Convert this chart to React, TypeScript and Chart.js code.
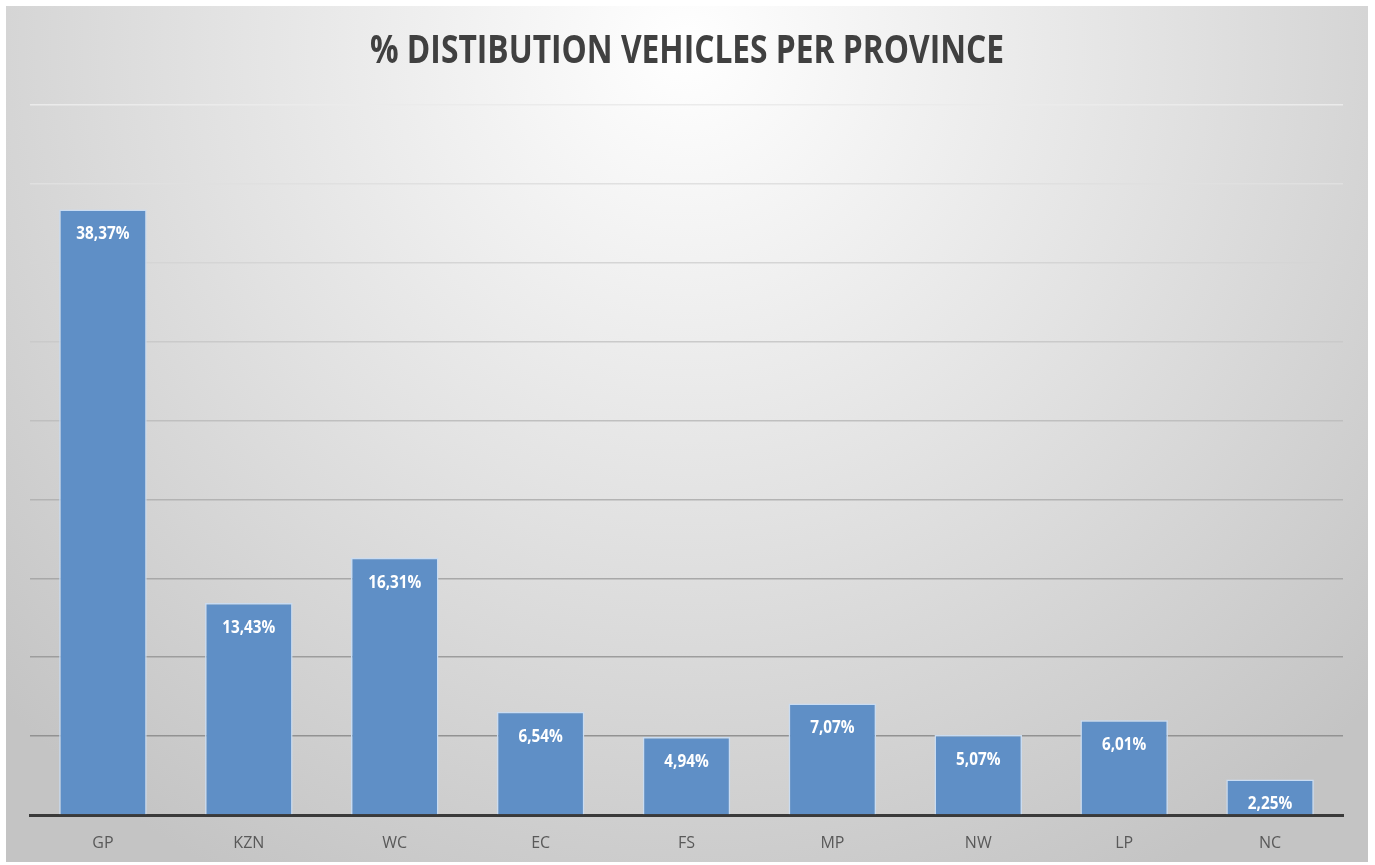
import React, { useEffect, useRef } from "react";
import { Chart, registerables } from "chart.js";

Chart.register(...registerables);

const titleText = "% DISTIBUTION VEHICLES PER PROVINCE";
const provinces = ["GP", "KZN", "WC", "EC", "FS", "MP", "NW", "LP", "NC"];
const shares = [38.37, 13.43, 16.31, 6.54, 4.94, 7.07, 5.07, 6.01, 2.25];
const yMax = 45;
const yStep = 5;

const fmt = (v: number) => v.toFixed(2).replace(".", ",") + "%";

const bgPlugin = {
  id: "bgGradient",
  beforeDraw(chart: any) {
    const { ctx, width, height } = chart;
    ctx.save();
    const g = ctx.createRadialGradient(width / 2, 40, 0, width / 2, 40, 950);
    g.addColorStop(0, "#ffffff");
    g.addColorStop(0.5, "#e2e2e2");
    g.addColorStop(1, "#c4c4c4");
    ctx.fillStyle = g;
    ctx.fillRect(0, 0, width, height);
    // title, condensed to match reference width
    ctx.font = "bold 40px 'Open Sans', sans-serif";
    ctx.fillStyle = "#404040";
    ctx.textAlign = "center";
    ctx.textBaseline = "middle";
    const w = ctx.measureText(titleText).width;
    const target = 634;
    const sx = target / w;
    ctx.translate(width / 2 + 0, 46);
    ctx.scale(sx, 1);
    ctx.fillText(titleText, 0, 0);
    ctx.restore();
  },
};

const labelPlugin = {
  id: "barLabels",
  afterDatasetsDraw(chart: any) {
    const { ctx } = chart;
    const meta = chart.getDatasetMeta(0);
    ctx.save();
    ctx.font = "bold 17px 'Open Sans', sans-serif";
    ctx.fillStyle = "#ffffff";
    ctx.textAlign = "center";
    ctx.textBaseline = "middle";
    meta.data.forEach((bar: any, i: number) => {
      const text = fmt(shares[i]);
      const w = ctx.measureText(text).width;
      ctx.save();
      ctx.translate(bar.x, bar.y + 25);
      ctx.scale(0.9, 1);
      ctx.fillText(text, 0, 0);
      ctx.restore();
    });
    ctx.restore();
  },
};

export default function App() {
  const ref = useRef<HTMLCanvasElement | null>(null);
  useEffect(() => {
    if (!ref.current) return;
    const chart = new Chart(ref.current, {
      type: "bar",
      data: {
        labels: provinces,
        datasets: [
          {
            data: shares,
            backgroundColor: "#5f8fc6",
            borderColor: "#c9dcf2",
            borderWidth: 1.5,
            borderSkipped: "bottom",
            categoryPercentage: 1,
            barPercentage: 0.6,
          },
        ],
      },
      options: {
        animation: false,
        responsive: true,
        maintainAspectRatio: false,
        layout: { padding: { left: 24, right: 25, top: 99, bottom: 0 } },
        plugins: {
          legend: { display: false },
          title: { display: false },
          tooltip: { enabled: false },
        },
        scales: {
          x: {
            grid: { display: false },
            border: { display: true, color: "#3a3a3a", width: 3 },
            ticks: {
              color: "#595959",
              font: { family: "'Open Sans', sans-serif", size: 16 },
              padding: 11,
            },
            afterFit: (s: any) => {
              s.height = 47;
            },
          },
          y: {
            min: 0,
            max: yMax,
            ticks: { display: false, stepSize: yStep },
            border: { display: false },
            grid: {
              drawTicks: false,
              lineWidth: 1.5,
              color: (c: any) => {
                const v = c.tick ? c.tick.value : 0;
                if (v === 0) return "rgba(0,0,0,0)";
                const t = v / yMax;
                const shade = Math.round(135 + t * 100);
                return `rgb(${shade},${shade},${shade})`;
              },
            },
            afterFit: (s: any) => {
              s.width = 0;
            },
          },
        },
      },
      plugins: [bgPlugin, labelPlugin],
    });
    return () => chart.destroy();
  }, []);
  return (
    <div
      style={{
        position: "fixed",
        left: 0,
        top: 0,
        width: 1375,
        height: 865,
        background: "#ffffff",
      }}
    >
      <div style={{ position: "absolute", left: 6, top: 6, width: 1362, height: 856 }}>
        <canvas ref={ref} />
      </div>
    </div>
  );
}
